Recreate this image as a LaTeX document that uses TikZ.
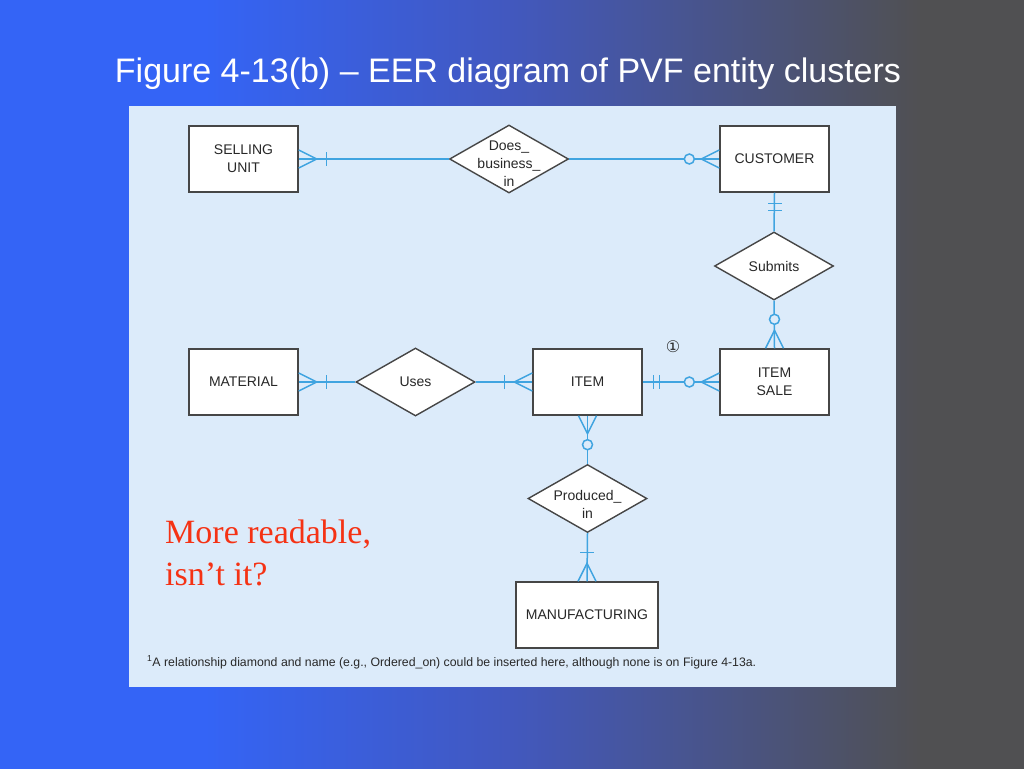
\documentclass[tikz,border=0pt]{standalone}
\usepackage{fontspec}
\setmainfont{Liberation Sans}
\newfontfamily\serifred{Liberation Serif}
\newfontfamily\dejavu{DejaVu Sans}
\usetikzlibrary{shapes.geometric}
\definecolor{bgblue}{RGB}{52,100,246}
\definecolor{bgmid}{RGB}{66,88,190}
\definecolor{bggray}{RGB}{80,80,82}
\definecolor{panel}{RGB}{220,235,250}
\definecolor{conncol}{RGB}{64,164,224}
\definecolor{boxgray}{RGB}{70,70,70}
\definecolor{txtgray}{RGB}{40,40,40}
\definecolor{redtxt}{RGB}{245,50,20}
% path spans 25bp..75bp of the shading
\pgfdeclarehorizontalshading{bgshade}{100bp}{color(0bp)=(bgblue); color(35bp)=(bgblue); color(50bp)=(bgmid); color(70bp)=(bggray); color(100bp)=(bggray)}
\tikzset{
  entity/.style={draw=boxgray, fill=white, line width=1.4pt, minimum width=109pt, minimum height=66pt, inner sep=0pt, font=\fontsize{14}{18}\selectfont, text=txtgray, align=center},
  reldia/.style={diamond, draw=boxgray, fill=white, line width=1.4pt, minimum width=119pt, minimum height=68pt, inner sep=0pt},
  reltext/.style={font=\fontsize{14}{18}\selectfont, text=txtgray, align=center, inner sep=0pt},
  conn/.style={draw=conncol, line width=1.5pt}
}
\newcommand\crowfoot[2]{\draw[conn,shift={(#1)},rotate=#2] (0,9) -- (18,0) -- (0,-9);}
\newcommand\onebar[3]{\draw[conn,shift={(#1)},rotate=#2] (#3,-7) -- (#3,7);}
\newcommand\zerocirc[3]{\draw[conn,fill=panel,shift={(#1)},rotate=#2] (#3,0) circle[radius=5];}
\begin{document}
\begin{tikzpicture}[x=1pt,y=-1pt]
\useasboundingbox (0,0) rectangle (1024,768);
\shade[shading=bgshade] (0,0) rectangle (1024,768);
\node[text=white, font=\fontsize{34}{40}\selectfont, anchor=base] (title) at (508,82) {Figure 4-13(b) – EER diagram of PVF entity clusters};
\fill[panel] (129,106) rectangle (896,687);
% entities
\node[entity] (su) at (243.5,159) {SELLING\\UNIT};
\node[entity] (cu) at (774.5,159) {CUSTOMER};
\node[entity] (ma) at (243.5,382) {MATERIAL};
\node[entity] (it) at (587.5,382) {ITEM};
\node[entity] (is) at (774.5,382) {ITEM\\SALE};
\node[entity, minimum width=142pt] (mf) at (587,615) {MANUFACTURING};
% relationships
\node[reldia] (db) at (509,159) {};
\node[reltext, yshift=-5pt] (dbt) at (db) {Does\_\\business\_\\in};
\node[reldia] (sb) at (774,266) {};
\node[reltext] (sbt) at (sb) {Submits};
\node[reldia] (us) at (415.5,382) {};
\node[reltext] (ust) at (us) {Uses};
\node[reldia] (pi) at (587.5,498.5) {};
\node[reltext, yshift=-6pt] (pit) at (pi) {Produced\_\\in};
% connectors
\draw[conn] (su.east) -- (db.west);
\crowfoot{su.east}{0}\onebar{su.east}{0}{28}
\draw[conn] (db.east) -- (cu.west);
\crowfoot{cu.west}{180}\zerocirc{cu.west}{180}{30}
\draw[conn] (cu.south) -- (sb.north);
\onebar{cu.south}{-90}{11}\onebar{cu.south}{-90}{18}
\draw[conn] (sb.south) -- (is.north);
\crowfoot{is.north}{90}\zerocirc{is.north}{90}{29}
\draw[conn] (ma.east) -- (us.west);
\crowfoot{ma.east}{0}\onebar{ma.east}{0}{28}
\draw[conn] (us.east) -- (it.west);
\crowfoot{it.west}{180}\onebar{it.west}{180}{28}
\draw[conn] (it.east) -- (is.west);
\onebar{it.east}{0}{11}\onebar{it.east}{0}{17}
\crowfoot{is.west}{180}\zerocirc{is.west}{180}{30}
\draw[conn] (it.south) -- (pi.north);
\crowfoot{it.south}{-90}\zerocirc{it.south}{-90}{29}
\draw[conn] (pi.south) -- (mf.north);
\crowfoot{mf.north}{90}\onebar{mf.north}{90}{29}
% marker
\node[font=\dejavu\fontsize{16}{16}\selectfont, text=txtgray, inner sep=0pt] (mark) at (673,347) {①};
% red remark
\node[font=\serifred\fontsize{34}{42}\selectfont, text=redtxt, align=left, anchor=base west, inner sep=0pt] (remark) at (165,585) {More readable,\\isn’t it?};
% footnote
\node[font=\fontsize{12.3}{14}\selectfont, text=txtgray, anchor=base west, inner sep=0pt] (foot) at (147,666) {\textsuperscript{1}A relationship diamond and name (e.g., Ordered\_on) could be inserted here, although none is on Figure 4-13a.};
\end{tikzpicture}
\end{document}
